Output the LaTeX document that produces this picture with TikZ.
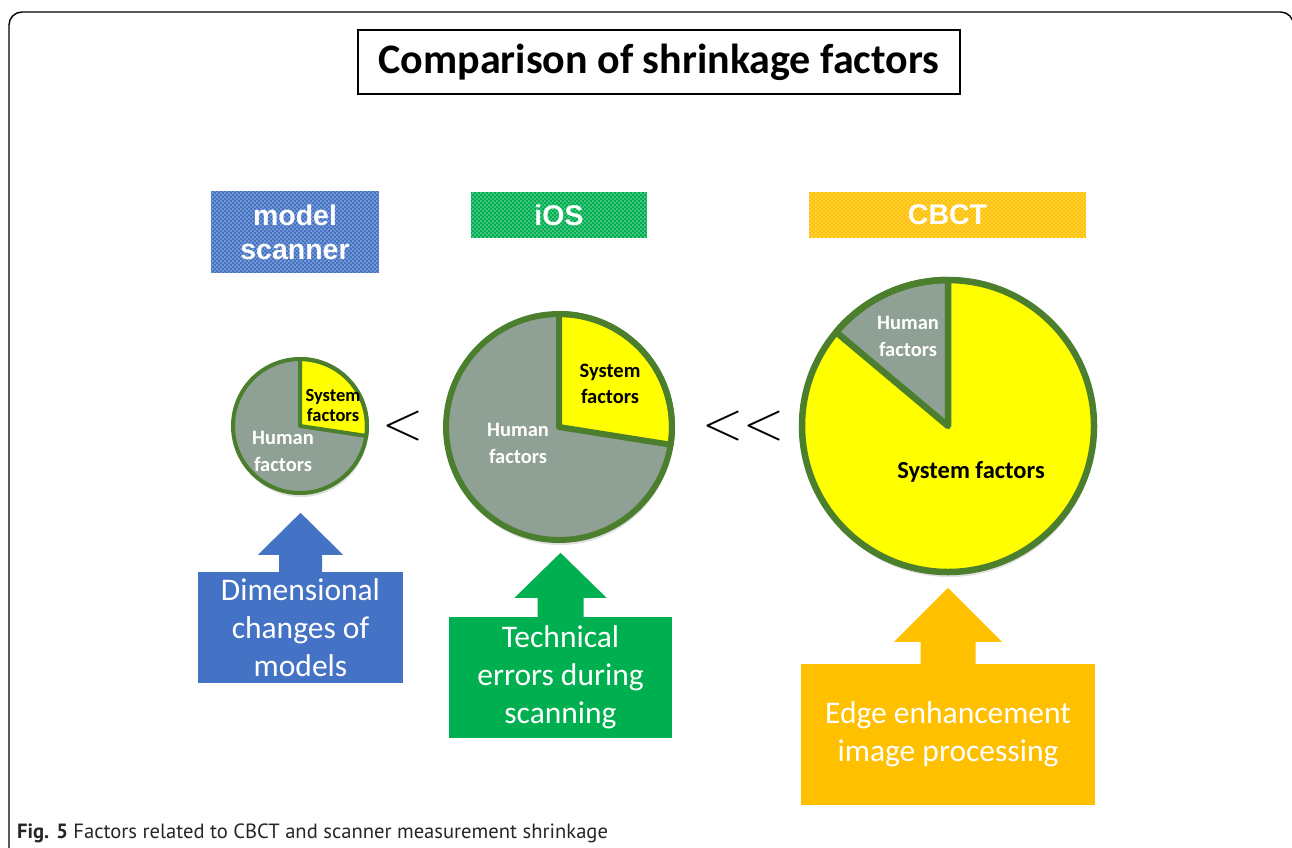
\documentclass[tikz,border=0pt]{standalone}
\usepackage{fontspec}
\setmainfont{Carlito}
\newfontfamily\tagfont{Liberation Sans}
\newfontfamily\capfont{PT Sans}
\usepackage{xcolor}
\usetikzlibrary{patterns,shadows,positioning}
\definecolor{scanblue}{HTML}{4472C4}
\definecolor{iosgreen}{HTML}{00B050}
\definecolor{cbctorange}{HTML}{FFC000}
\definecolor{rimgreen}{HTML}{4B7F2E}
\definecolor{humangray}{HTML}{8FA094}
\definecolor{sysyellow}{HTML}{FFFF00}
\pgfdeclarepatternformonly{tagdots}{\pgfpointorigin}{\pgfpoint{4.4pt}{4.4pt}}{\pgfpoint{4.4pt}{4.4pt}}{
        \pgfpathcircle{\pgfpoint{1.1pt}{1.1pt}}{0.75pt}
        \pgfpathcircle{\pgfpoint{3.3pt}{3.3pt}}{0.75pt}
        \pgfusepath{fill}}
\tikzset{
        tag/.style={fill=#1, postaction={pattern=tagdots, pattern color=white}, text=white,
                font=\tagfont\bfseries\fontsize{28.5}{34}\selectfont, align=center, inner sep=0pt},
        cause/.style={fill=#1, text=white, font=\fontsize{31.5}{38}\selectfont, align=center, inner sep=0pt},
        rim/.style={draw=rimgreen, line width=#1, line join=round},
        syslabel/.style={font=\bfseries\fontsize{#1}{26}\selectfont, align=center, text=black},
        humlabel/.style={font=\bfseries\fontsize{20.5}{27}\selectfont, align=center, text=white},
        lesser/.style={font=\fontsize{20}{20}\selectfont, inner sep=0pt, scale=2.6}
}
\newcommand{\uparrowfrom}[6]{%
        \fill[#6] ([xshift=-#2pt]#1.north) -- ++(0,#3) -- ++(#2-#4,0) -- ++(#4,#5)
                -- ++(#4,-#5) -- ++(#2-#4,0) -- ++(0,-#3) -- cycle;}

\begin{document}
\begin{tikzpicture}[x=1pt,y=1pt]
        \useasboundingbox (0,0) rectangle (1292,-847);
        \draw[line width=1.4pt, rounded corners=13pt] (9,-12) rectangle (1293.5,-880);
        \node[draw, line width=1.3pt, minimum width=602pt, minimum height=64pt, inner sep=0pt,
                font=\bfseries\fontsize{42}{50}\selectfont] (title) at (659,-62) {Comparison of shrinkage factors};

        \node[tag=scanblue, minimum width=168pt, minimum height=82pt] (tagscan) at (295,-232) {model\\scanner};
        \node[tag=iosgreen, minimum width=176pt, minimum height=46pt] (tagios) at (559,-215) {iOS};
        \node[tag=cbctorange, minimum width=277pt, minimum height=46pt] (tagcbct) at (947.5,-215) {CBCT};

        \coordinate (piescan) at (300,-426);
        \coordinate (pieios) at (559,-427);
        \coordinate (piecbct) at (948,-426);

        \fill[humangray, drop shadow={opacity=0.25, shadow xshift=1pt, shadow yshift=-4pt}] (piescan) circle (67);
        \filldraw[fill=sysyellow, rim=4pt] (piescan) -- ++(90:67) arc[start angle=90, end angle=-8.5, radius=67] -- cycle;
        \draw[rim=4pt] (piescan) circle (67);

        \fill[humangray, drop shadow={opacity=0.25, shadow xshift=1pt, shadow yshift=-5pt}] (pieios) circle (113);
        \filldraw[fill=sysyellow, rim=6pt] (pieios) -- ++(90:113) arc[start angle=90, end angle=-9, radius=113] -- cycle;
        \draw[rim=6pt] (pieios) circle (113);

        \fill[sysyellow, drop shadow={opacity=0.25, shadow xshift=1pt, shadow yshift=-5pt}] (piecbct) circle (146);
        \filldraw[fill=humangray, rim=6.5pt] (piecbct) -- ++(90:146) arc[start angle=90, end angle=140, radius=146] -- cycle;
        \draw[rim=6.5pt] (piecbct) circle (146);

        \node[syslabel=18.5, font=\bfseries\fontsize{18.5}{20}\selectfont] (sysscan) at (333,-405) {System\\factors};
        \node[humlabel] (humscan) at (283,-451) {Human\\factors};
        \node[syslabel=20.5] (sysios) at (610,-384) {System\\factors};
        \node[humlabel] (humios) at (518,-443) {Human\\factors};
        \node[humlabel] (humcbct) at (908,-336) {Human\\factors};
        \node[syslabel=24.5] (syscbct) at (971,-472) {System factors};

        \node[lesser] (lt) at (403,-426) {$<$};
        \node[lesser] (llt) at (744,-426) {$<<$};

        \node[cause=scanblue, minimum width=205pt, minimum height=111pt] (causescan) at (300.5,-627.5) {Dimensional\\changes of\\models};
        \node[cause=iosgreen, minimum width=223pt, minimum height=121pt] (causeios) at (560.5,-677.5) {Technical\\errors during\\scanning};
        \node[cause=cbctorange, minimum width=294pt, minimum height=141pt] (causecbct) at (948,-734.5) {Edge enhancement\\image processing};

        \uparrowfrom{causescan}{21.5}{17}{42.5}{42}{scanblue}
        \uparrowfrom{causeios}{23}{19}{46}{45}{iosgreen}
        \uparrowfrom{causecbct}{27.5}{22}{54}{54}{cbctorange}

        \node[anchor=base west, inner sep=0pt, text=black!85, font=\capfont\fontsize{20.6}{24}\selectfont] (caption) at (17,-838)
                {\textbf{Fig. 5} Factors related to CBCT and scanner measurement shrinkage};
\end{tikzpicture}
\end{document}
